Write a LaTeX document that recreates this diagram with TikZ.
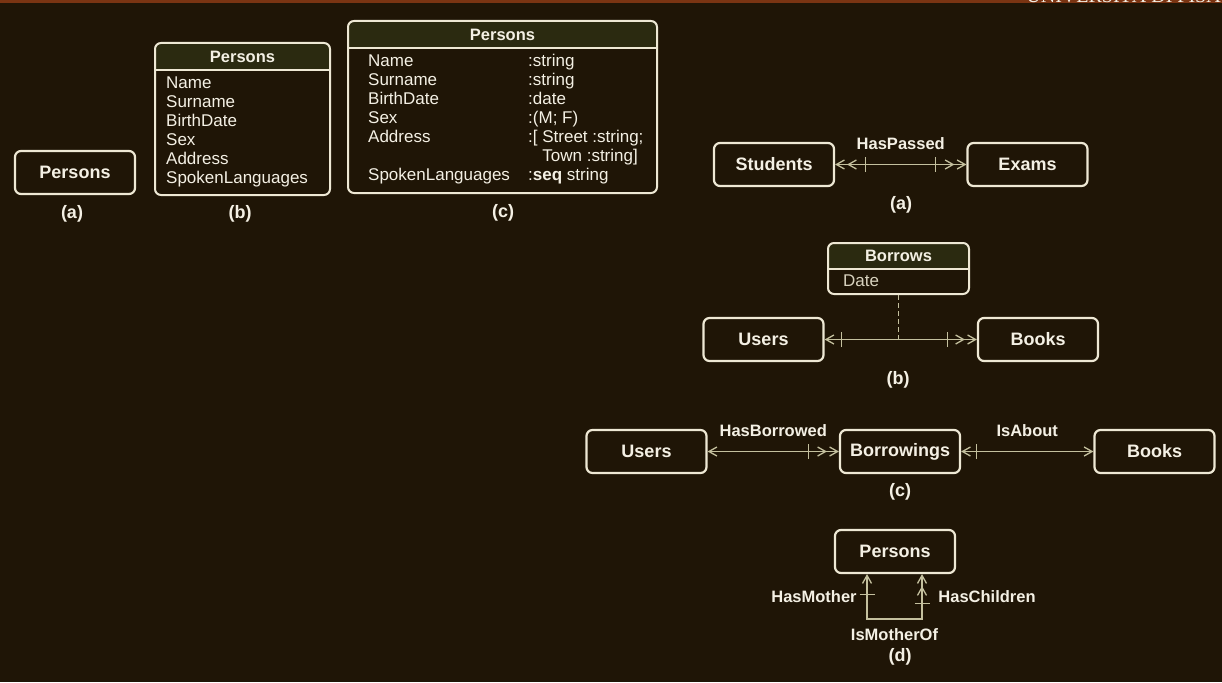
\documentclass[tikz,border=0pt]{standalone}
\usepackage{fontspec}
\setmainfont{Liberation Sans}
\newfontfamily\unifont{Liberation Serif}
\usetikzlibrary{arrows.meta,positioning}

\definecolor{bgbrown}{RGB}{31,21,6}
\definecolor{stripbrown}{RGB}{122,52,18}
\definecolor{boxcream}{RGB}{238,232,212}
\definecolor{linecream}{RGB}{196,192,158}
\definecolor{hdrolive}{RGB}{43,42,16}
\definecolor{txtwhite}{RGB}{244,240,228}
\definecolor{datecream}{RGB}{216,210,190}

\tikzset{
  Head/.tip={Straight Barb[length=8pt,width=9pt]},
  Tick/.tip={Bar[width=15pt]},
  entity/.style={draw=boxcream, line width=2.2pt, rounded corners=6pt,
    minimum width=120pt, minimum height=43pt, font=\bfseries\fontsize{18}{21}\selectfont},
  classbox/.style={draw=boxcream, line width=2pt, rounded corners=6pt,
    path picture={
      \fill[hdrolive, sharp corners] (path picture bounding box.north west)
        rectangle ([yshift=-#1]path picture bounding box.north east);
      \draw[boxcream, sharp corners] ([yshift=-#1]path picture bounding box.north west)
        -- ([yshift=-#1]path picture bounding box.north east);
    }},
  classbox/.default=27pt,
  attr/.style={anchor=west, inner sep=0pt, text height=12pt, text depth=3.5pt},
  bold/.style={font=\bfseries\fontsize{16.5}{20}\selectfont},
  caption/.style={font=\bfseries\fontsize{18}{21}\selectfont},
  assoc/.style={draw=linecream, line width=1.3pt},
}

\begin{document}
\begin{tikzpicture}[x=1pt, y=-1pt, every node/.style={text=txtwhite, font=\fontsize{17}{20}\selectfont}]
  \fill[bgbrown] (0,0) rectangle (1222,682);
  \useasboundingbox (0,0) rectangle (1222,682);
  \begin{scope}
    \clip (0,0) rectangle (1222,3.5);
    \fill[stripbrown] (0,0) rectangle (1222,3.5);
    \node[anchor=base east, inner sep=0pt, font=\unifont\fontsize{20}{20}\selectfont] (uni) at (1221,3) {UNIVERSITÀ DI PISA};
  \end{scope}

  % left: (a) (b) (c)
  \node[entity] (pa) at (75,172.5) {Persons};
  \node[caption] (capa) at (72,214) {(a)};

  \node[classbox, minimum width=175pt, minimum height=152pt] (pb) at (242.5,119) {};
  \node[bold] (pbh) at (242.5,57) {Persons};
  \foreach \a [count=\k] in {Name,Surname,BirthDate,Sex,Address,SpokenLanguages}
    \node[attr] (pb\k) at (166,{65+19*\k}) {\a};
  \node[caption] (capb) at (240,214) {(b)};

  \node[classbox, minimum width=309pt, minimum height=172pt] (pc) at (502.5,107) {};
  \node[bold] (pch) at (502.5,34.5) {Persons};
  \foreach \a/\k in {Name/1,Surname/2,BirthDate/3,Sex/4,Address/5,SpokenLanguages/7}
    \node[attr] (pcn\k) at (368,{43+19*\k}) {\a};
  \foreach \t [count=\k] in {:string,:string,:date,{:(M; F)},{:[ Street :string;},{\phantom{:[ }Town :string]},{:\textbf{seq} string}}
    \node[attr] (pct\k) at (528,{43+19*\k}) {\t};
  \node[caption] (capc) at (503,213) {(c)};

  % right: (a)
  \node[entity] (stu) at (774,164.5) {Students};
  \node[entity] (exa) at (1027.5,164.5) {Exams};
  \draw[assoc, {Head[] Head[sep=2pt] Tick[sep=8pt]}-{Tick[sep=8pt] Head[sep=2pt] Head[]}] (stu)
    -- node[bold, above=11pt] (hp) {HasPassed} (exa);
  \node[caption] (capra) at (901,205) {(a)};

  % right: (b)
  \node[classbox=26pt, minimum width=141pt, minimum height=51pt] (brw) at (898.5,268.5) {};
  \node[bold] (brwh) at (898.5,256) {Borrows};
  \node[attr, text=datecream] (brwd) at (843,282) {Date};
  \node[entity] (usb) at (763.5,339.5) {Users};
  \node[entity] (bkb) at (1038,339.5) {Books};
  \draw[assoc, {Head[] Tick[sep=6pt]}-{Tick[sep=7pt] Head[sep=2pt] Head[]}] (usb) -- (bkb);
  \draw[assoc, dash pattern=on 5pt off 3pt] (brw) -- (brw |- usb);
  \node[caption] (caprb) at (898,380) {(b)};

  % right: (c)
  \node[entity] (usc) at (646.5,451.5) {Users};
  \node[entity] (brg) at (900,451.5) {Borrowings};
  \node[entity] (bkc) at (1154.5,451.5) {Books};
  \draw[assoc, {Head[]}-{Tick[sep=8pt] Head[sep=2pt] Head[]}] (usc)
    -- node[bold, above=11pt] (hb) {HasBorrowed} (brg);
  \draw[assoc, {Head[] Tick[sep=5pt]}-{Head[]}] (brg)
    -- node[bold, above=11pt] (ia) {IsAbout} (bkc);
  \node[caption] (caprc) at (900,492) {(c)};

  % right: (d)
  \node[entity] (pd) at (895,551.5) {Persons};
  \draw[assoc, {Head[] Tick[sep=10pt]}-{Tick[sep=7pt] Head[sep=2pt] Head[]}] ([xshift=-28pt]pd.south)
    -- ++(0,45) -- node[bold, below=5pt] (imo) {IsMotherOf} ++(55,0) -- ([xshift=27pt]pd.south);
  \node[bold] (hm) at (814,597) {HasMother};
  \node[bold] (hc) at (987,597) {HasChildren};
  \node[caption] (caprd) at (900,657) {(d)};
\end{tikzpicture}
\end{document}
